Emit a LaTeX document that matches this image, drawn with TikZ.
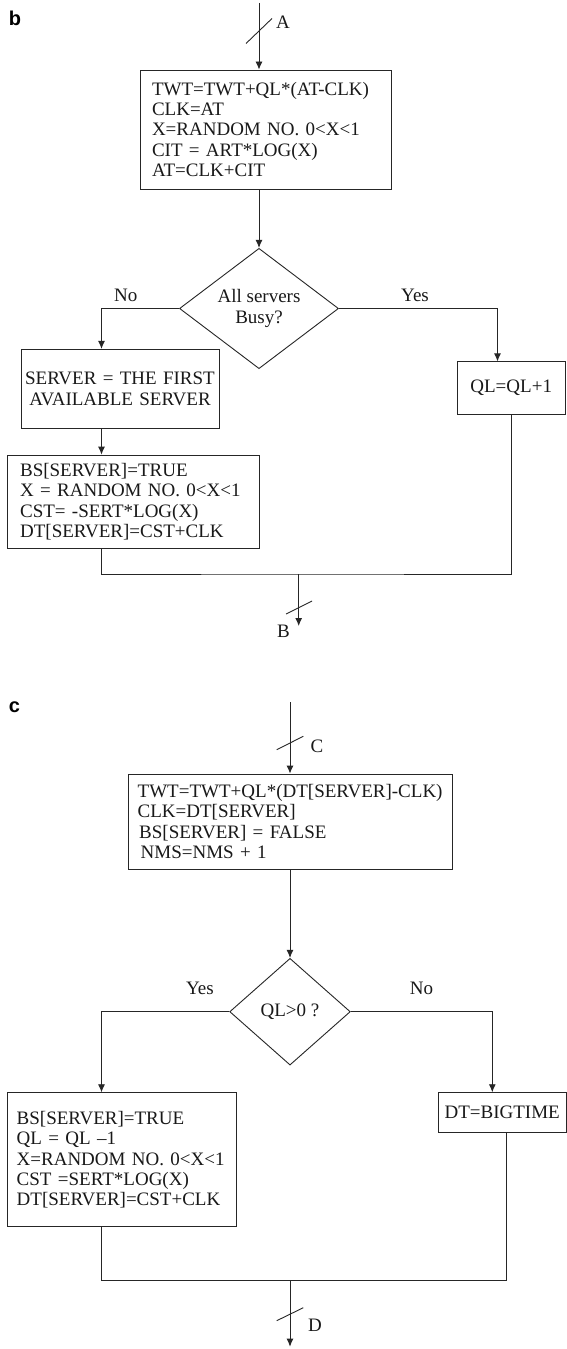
\documentclass[tikz,border=0pt]{standalone}
\usepackage{fontspec}
\setmainfont{Liberation Serif}
\newfontfamily\panelfont{Liberation Sans}
\usetikzlibrary{shapes.geometric,arrows.meta}

\begin{document}
\begin{tikzpicture}[x=1bp,y=-1bp,
  line/.style={draw=black!85, line width=0.9bp},
  arr/.style={line, -{Latex[length=8bp,width=7bp]}},
  txt/.style={font=\fontsize{19bp}{20.2bp}\selectfont, text=black!90},
  stepbox/.style={txt, draw=black!85, line width=0.9bp, rectangle, inner ysep=0pt},
  leftbox/.style={stepbox, align=left},
  midbox/.style={stepbox, align=center, inner xsep=3bp},
  decide/.style={txt, diamond, draw=black!85, line width=0.9bp, inner sep=0pt, align=center},
  lbl/.style={txt, inner sep=0pt},
  panel/.style={font=\panelfont\bfseries\fontsize{20bp}{20bp}\selectfont, inner sep=0pt},
  cut/.style={line}
]
\fill[white] (0,0) rectangle (567,1349);
\useasboundingbox (0,0) rectangle (567,1349);

% ---------------- panel b: arrival event ----------------
\node[panel] (pb) at (15,18) {b};
\coordinate (aTop) at (259,3);
\coordinate (colL) at (101.5,0);
\coordinate (colR) at (497.5,0);

\node[leftbox, text width=227bp, inner xsep=12bp, minimum height=119bp] (b1) at (265.5,129.5)
  {TWT=TWT+QL*(AT-CLK)\\CLK=AT\\X=RANDOM NO. 0<X<1\\CIT = ART*LOG(X)\\AT=CLK+CIT};
\draw[arr] (aTop) -- (aTop |- b1.north);
\coordinate (aCut) at (259,31);
\draw[cut] ([shift={(-13,12.5)}]aCut) -- ([shift={(13,-12.5)}]aCut);
\node[lbl] (la) at (283,22) {A};

\node[decide, minimum width=159bp, minimum height=105bp] (d1) at (259,308.5) {All servers\\Busy?};
\draw[arr] (d1.north |- b1.south) -- (d1.north);
\node[lbl] (no1) at (125.7,295) {No};
\node[lbl] (yes1) at (415,295) {Yes};

\node[midbox, text width=190bp, inner xsep=4bp, minimum height=79bp] (b2) at (120,388.8)
  {SERVER = THE FIRST\\AVAILABLE SERVER};
\node[midbox, text width=102bp, minimum height=52.3bp] (b3) at (511.2,388) {QL=QL+1};
\node[leftbox, text width=226bp, inner xsep=12.9bp, minimum height=93.3bp] (b4) at (133.1,501.7)
  {BS[SERVER]=TRUE\\X = RANDOM NO. 0<X<1\\CST= -SERT*LOG(X)\\DT[SERVER]=CST+CLK};

\draw[arr] (d1.west) -| (colL |- b2.north);
\draw[arr] (d1.east) -| (colR |- b3.north);
\draw[arr] (colL |- b2.south) -- (colL |- b4.north);

\coordinate (jB) at (298.7,574);
\coordinate (bEnd) at (298.7,626);
\draw[line] (colL |- b4.south) |- (jB) -| (b3.south);
\draw[arr] (jB) -- (bEnd);
\coordinate (bCut) at (299,607.5);
\draw[cut] ([shift={(-13,6.5)}]bCut) -- ([shift={(13,-6.5)}]bCut);
\node[lbl] (lb) at (283.5,631) {B};

% ---------------- panel c: departure event ----------------
\node[panel] (pc) at (14.5,707.5) {c};
\coordinate (cTop) at (290,702);
\coordinate (colR2) at (492.3,0);
\coordinate (colR3) at (506,0);

\node[leftbox, text width=305bp, inner xsep=9.3bp, minimum height=95bp] (c1) at (290.2,821.5)
  {TWT=TWT+QL*(DT[SERVER]-CLK)\\CLK=DT[SERVER]\\\hspace*{1.5bp}BS[SERVER] = FALSE\\\hspace*{3bp}NMS=NMS + 1};
\draw[arr] (cTop) -- (cTop |- c1.north);
\coordinate (cCut) at (290,743);
\draw[cut] ([shift={(-13.3,6.7)}]cCut) -- ([shift={(13.3,-6.7)}]cCut);
\node[lbl] (lc) at (317,746) {C};

\node[decide, minimum width=120.6bp, minimum height=106.7bp] (d2) at (290,1011.7) {QL>0 ?};
\draw[arr] (d2.north |- c1.south) -- (d2.north);
\node[lbl] (yes2) at (200,988.3) {Yes};
\node[lbl] (no2) at (421.5,988.3) {No};

\node[leftbox, text width=210.6bp, inner xsep=9.4bp, minimum height=134bp] (c2) at (122,1159.7)
  {BS[SERVER]=TRUE\\QL = QL –1\\X=RANDOM NO. 0<X<1\\CST =SERT*LOG(X)\\DT[SERVER]=CST+CLK};
\node[midbox, text width=121.7bp, minimum height=39.6bp] (c3) at (502.2,1112.5) {DT=BIGTIME};

\draw[arr] (d2.west) -| (colL |- c2.north);
\draw[arr] (d2.east) -| (colR2 |- c3.north);

\coordinate (jD) at (290,1280.7);
\coordinate (dEnd) at (290,1346.7);
\draw[line] (colL |- c2.south) |- (jD) -| (colR3 |- c3.south);
\draw[arr] (jD) -- (dEnd);
\coordinate (dCut) at (290,1314.2);
\draw[cut] ([shift={(-13.3,6.5)}]dCut) -- ([shift={(13.3,-6.5)}]dCut);
\node[lbl] (ld) at (315,1325) {D};
\end{tikzpicture}
\end{document}
